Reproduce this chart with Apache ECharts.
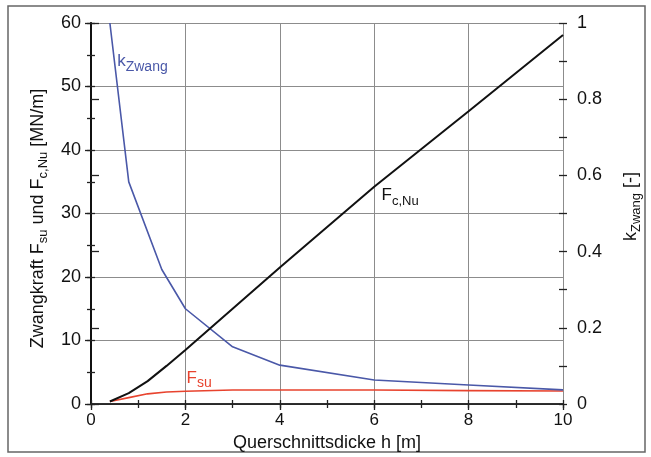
<!DOCTYPE html>
<html>
<head>
<meta charset="utf-8">
<script src="https://cdn.jsdelivr.net/npm/echarts@6/dist/echarts.min.js"></script>
<style>
html,body{margin:0;padding:0;background:#fff;}
#main{width:651px;height:457px;}
</style>
</head>
<body>
<div id="main"></div>
<script>
// ---- data ----
const hK = [0.4, 0.8, 1.5, 2, 3, 4, 6, 8, 10];
const kZwang = [1.0, 0.583, 0.353, 0.25, 0.15, 0.102, 0.063, 0.05, 0.037];
const hF = [0.4, 0.8, 1.2, 1.6, 2, 3, 4, 6, 8, 10];
const FcNu = [0.4, 1.7, 3.6, 6.0, 8.5, 15.0, 21.5, 34.2, 46.1, 58.1];
const hSu = [0.4, 0.8, 1.2, 1.6, 2, 3, 4, 6, 8, 10];
const Fsu = [0.4, 1.0, 1.6, 1.9, 2.0, 2.2, 2.2, 2.2, 2.1, 2.05];
const xTicks = [0, 2, 4, 6, 8, 10];
const yLeftTicks = [0, 10, 20, 30, 40, 50, 60];
const yRightTicks = [0, 0.2, 0.4, 0.6, 0.8, 1];
// annotation anchors (data space, left axis)
const labK = [1.09, 53.9];
const labFc = [6.55, 32.8];
const labFsu = [2.29, 4.1];

const FONT = 'Liberation Sans, Arial, sans-serif';
const TXT = '#111';
const pairs = (xs, ys) => xs.map((x, i) => [x, ys[i]]);

const chart = echarts.init(document.getElementById('main'), null, {renderer: 'canvas'});

const hidden = {show: false};
function minorAxis(base, inside, len) {
  return Object.assign({
    type: 'value', axisLine: {show: false}, axisLabel: hidden, splitLine: hidden,
    axisTick: {show: true, inside: inside, length: len, lineStyle: {color: '#222', width: 1.3}}
  }, base);
}

const subMain = {fontSize: 18, fontFamily: FONT, color: TXT, verticalAlign: 'middle', lineHeight: 24};
const subSub = {fontSize: 13, fontFamily: FONT, color: TXT, verticalAlign: 'bottom', lineHeight: 24};

chart.setOption({
  animation: false,
  backgroundColor: '#fff',
  textStyle: {fontFamily: FONT},
  grid: {left: 91, right: 84, top: 23, bottom: 53, containLabel: false},
  graphic: [{
    type: 'rect', shape: {x: 8, y: 6, width: 637, height: 446},
    style: {fill: 'none', stroke: '#666', lineWidth: 1.5}, z: -10
  }],
  xAxis: [
    {
      type: 'value', min: 0, max: 10, interval: 2, position: 'bottom',
      name: 'Querschnittsdicke h [m]', nameLocation: 'middle', nameGap: 25,
      nameTextStyle: {fontSize: 18, color: TXT, fontFamily: FONT},
      axisLine: {show: true, lineStyle: {color: '#222', width: 1.5}},
      axisTick: {show: true, length: 6, lineStyle: {color: '#222', width: 1.3}},
      axisLabel: {fontSize: 17, color: TXT, margin: 8, fontFamily: FONT,
        formatter: v => xTicks.indexOf(v) >= 0 ? String(v) : ''},
      splitLine: {show: true, lineStyle: {color: '#8c8c8c', width: 1}}
    },
    minorAxis({min: 0, max: 10, interval: 1, position: 'bottom'}, false, 4),
    minorAxis({min: 0, max: 10, interval: 1, position: 'bottom'}, true, 4),
    {type: 'value', min: 0, max: 10, position: 'top', axisLine: {show: true, lineStyle: {color: '#222', width: 1.5}},
      axisTick: hidden, axisLabel: hidden, splitLine: hidden}
  ],
  yAxis: [
    {
      type: 'value', min: 0, max: 60, interval: 10, position: 'left',
      name: '{m|Zwangkraft F}{s|su}{m| und F}{s|c,Nu}{m| [MN/m]}{p|}',
      nameLocation: 'middle', nameGap: 41, nameRotate: 90,
      nameTextStyle: {rich: {m: subMain, s: subSub, p: {width: 10}}},
      axisLine: {show: true, lineStyle: {color: '#222', width: 1.5}},
      axisTick: {show: true, length: 6, lineStyle: {color: '#222', width: 1.3}},
      axisLabel: {fontSize: 18, color: TXT, margin: 10, fontFamily: FONT,
        formatter: v => yLeftTicks.indexOf(v) >= 0 ? String(v) : ''},
      splitLine: {show: true, lineStyle: {color: '#8c8c8c', width: 1}}
    },
    {
      type: 'value', min: 0, max: 1, interval: 0.2, position: 'right',
      name: '{p|}{m|k}{s|Zwang}{m| [-]}',
      nameLocation: 'middle', nameGap: 56, nameRotate: 90,
      nameTextStyle: {rich: {m: subMain, s: subSub, p: {width: 14}}},
      axisLine: {show: true, lineStyle: {color: '#111', width: 2}},
      axisTick: {show: true, length: 8, lineStyle: {color: '#222', width: 1.3}},
      axisLabel: {fontSize: 18, color: TXT, margin: 14, fontFamily: FONT,
        formatter: v => {
          const r = Math.round(v * 10) / 10;
          return yRightTicks.indexOf(r) >= 0 ? String(r) : '';
        }},
      splitLine: hidden
    },
    minorAxis({min: 0, max: 60, interval: 5, position: 'left'}, false, 4),
    minorAxis({min: 0, max: 60, interval: 5, position: 'left'}, true, 4),
    minorAxis({min: 0, max: 1, interval: 0.1, position: 'right'}, false, 4),
    minorAxis({min: 0, max: 1, interval: 0.1, position: 'right'}, true, 4)
  ],
  series: [
    {
      name: 'Fsu', type: 'line', xAxisIndex: 0, yAxisIndex: 0, data: pairs(hSu, Fsu),
      showSymbol: false, symbol: 'none', lineStyle: {color: '#e8432e', width: 1.6}, z: 3
    },
    {
      name: 'kZwang', type: 'line', xAxisIndex: 0, yAxisIndex: 1, data: pairs(hK, kZwang),
      showSymbol: false, symbol: 'none', lineStyle: {color: '#4a58a8', width: 1.6}, z: 4
    },
    {
      name: 'FcNu', type: 'line', xAxisIndex: 0, yAxisIndex: 0, data: pairs(hF, FcNu),
      showSymbol: false, symbol: 'none', lineStyle: {color: '#111', width: 2}, z: 5,
      markPoint: {
        symbol: 'circle', symbolSize: 0, silent: true,
        itemStyle: {color: 'rgba(0,0,0,0)'},
        data: [
          {coord: labK, label: {show: true, position: 'inside', formatter: '{m|k}{s|Zwang}',
            rich: {m: {fontSize: 17, fontFamily: FONT, color: '#4a58a8', verticalAlign: 'middle', lineHeight: 24},
                   s: {fontSize: 14, fontFamily: FONT, color: '#4a58a8', verticalAlign: 'bottom', lineHeight: 24}}}},
          {coord: labFc, label: {show: true, position: 'inside', formatter: '{m|F}{s|c,Nu}',
            rich: {m: {fontSize: 17, fontFamily: FONT, color: '#111', verticalAlign: 'middle', lineHeight: 24},
                   s: {fontSize: 13, fontFamily: FONT, color: '#111', verticalAlign: 'bottom', lineHeight: 24}}}},
          {coord: labFsu, label: {show: true, position: 'inside', formatter: '{m|F}{s|su}',
            rich: {m: {fontSize: 17, fontFamily: FONT, color: '#e8432e', verticalAlign: 'middle', lineHeight: 24},
                   s: {fontSize: 14, fontFamily: FONT, color: '#e8432e', verticalAlign: 'bottom', lineHeight: 24}}}}
        ]
      }
    }
  ]
});
</script>
</body>
</html>
